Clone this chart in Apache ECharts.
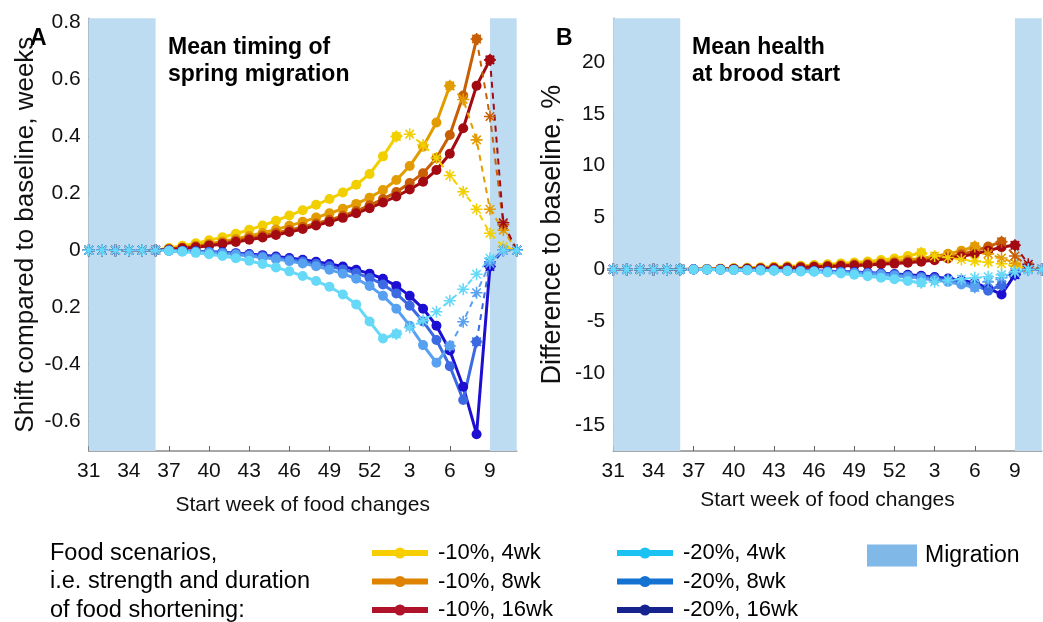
<!DOCTYPE html>
<html><head><meta charset="utf-8">
<script src="https://cdn.jsdelivr.net/npm/echarts@6/dist/echarts.min.js"></script>
<style>html,body{margin:0;padding:0;background:#fff}#c{width:1043px;height:622px}</style>
</head><body><div id="c"></div>
<script>
// weeks along the x axis (index 0..32)
const weeks = [31,32,33,34,35,36,37,38,39,40,41,42,43,44,45,46,47,48,49,50,51,52,1,2,3,4,5,6,7,8,9,10,11];
const xTickLabels = ['31','34','37','40','43','46','49','52','3','6','9'];
const yTicksA = [-0.6,-0.4,-0.2,0,0.2,0.4,0.6,0.8];
const yLabelsA = ['-0.6','-0.4','0.2','0','0.2','0.4','0.6','0.8'];
const yTicksB = [-15,-10,-5,0,5,10,15,20];
const yLabelsB = ['-15','-10','-5','0','5','10','15','20'];
const migrationWeeks = [[31,36],[9,11]];

// Panel A: shift of mean spring migration timing (weeks)
const A_yellow = [0,0,0,0,0,0,0.008,0.016,0.025,0.035,0.046,0.058,0.072,0.087,0.104,0.122,0.141,0.16,0.18,0.203,0.23,0.268,0.33,0.40,0.408,0.37,0.324,0.263,0.206,0.144,0.06,0.013,0];
const A_gold   = [0,0,0,0,0,0,0.005,0.01,0.016,0.023,0.031,0.04,0.05,0.061,0.073,0.086,0.1,0.115,0.13,0.146,0.163,0.185,0.212,0.247,0.296,0.364,0.449,0.578,0.53,0.388,0.144,0.071,0];
const A_rust   = [0,0,0,0,0,0,0.004,0.008,0.013,0.019,0.026,0.034,0.042,0.051,0.061,0.071,0.082,0.094,0.107,0.121,0.138,0.158,0.18,0.205,0.236,0.271,0.324,0.405,0.544,0.742,0.47,0.09,0];
const A_red    = [0,0,0,0,0,0,0.003,0.007,0.011,0.016,0.022,0.029,0.037,0.045,0.054,0.064,0.075,0.087,0.1,0.114,0.13,0.148,0.168,0.189,0.214,0.241,0.282,0.339,0.429,0.578,0.669,0.097,0];
const A_cyan   = [0,0,0,0,0,0,-0.002,-0.005,-0.009,-0.014,-0.02,-0.028,-0.037,-0.048,-0.06,-0.074,-0.09,-0.108,-0.128,-0.155,-0.19,-0.25,-0.31,-0.294,-0.271,-0.247,-0.216,-0.177,-0.137,-0.084,-0.028,0,0];
const A_lblue  = [0,0,0,0,0,0,-0.001,-0.003,-0.005,-0.008,-0.011,-0.015,-0.02,-0.025,-0.031,-0.038,-0.046,-0.056,-0.068,-0.082,-0.1,-0.125,-0.16,-0.205,-0.265,-0.333,-0.395,-0.336,-0.251,-0.149,-0.046,0,0];
const A_mblue  = [0,0,0,0,0,0,-0.001,-0.002,-0.004,-0.006,-0.009,-0.012,-0.016,-0.021,-0.026,-0.032,-0.039,-0.047,-0.056,-0.067,-0.08,-0.097,-0.12,-0.152,-0.195,-0.25,-0.315,-0.407,-0.526,-0.321,-0.04,0,0];
const A_dblue  = [0,0,0,0,0,0,-0.001,-0.002,-0.003,-0.005,-0.007,-0.01,-0.013,-0.017,-0.022,-0.027,-0.033,-0.04,-0.048,-0.057,-0.068,-0.082,-0.1,-0.125,-0.16,-0.205,-0.265,-0.352,-0.479,-0.646,-0.057,0,0];

// Panel B: difference of mean health at brood start (%)
const B_yellow = [0,0,0,0,0,0,0.02,0.05,0.08,0.12,0.16,0.2,0.25,0.3,0.36,0.42,0.5,0.58,0.67,0.77,0.9,1.05,1.3,1.6,1.3,1.15,0.95,0.8,0.7,0.55,0.3,0.05,0];
const B_gold   = [0,0,0,0,0,0,0.01,0.03,0.05,0.08,0.11,0.14,0.18,0.22,0.27,0.32,0.38,0.44,0.51,0.58,0.67,0.77,0.9,1.05,1.25,1.5,1.8,2.2,1.5,1.1,0.6,0.1,0];
const B_rust   = [0,0,0,0,0,0,0.01,0.02,0.04,0.06,0.08,0.11,0.14,0.18,0.22,0.26,0.31,0.36,0.42,0.48,0.55,0.63,0.73,0.85,1.0,1.2,1.45,1.8,2.2,2.67,1.3,0.3,0];
const B_red    = [0,0,0,0,0,0,0.01,0.02,0.03,0.05,0.07,0.09,0.12,0.15,0.19,0.23,0.27,0.32,0.37,0.43,0.49,0.56,0.65,0.75,0.88,1.05,1.25,1.5,1.8,2.15,2.32,0.5,0];
const B_cyan   = [0,0,0,0,0,0,-0.01,-0.02,-0.04,-0.06,-0.08,-0.1,-0.13,-0.16,-0.19,-0.23,-0.3,-0.4,-0.52,-0.65,-0.8,-0.95,-1.12,-1.29,-1.2,-1.05,-0.92,-0.8,-0.7,-0.5,-0.2,0,0];
const B_lblue  = [0,0,0,0,0,0,-0.01,-0.02,-0.03,-0.05,-0.07,-0.09,-0.11,-0.14,-0.17,-0.2,-0.24,-0.29,-0.35,-0.42,-0.5,-0.6,-0.72,-0.86,-1.02,-1.2,-1.45,-1.73,-1.2,-0.8,-0.3,0,0];
const B_mblue  = [0,0,0,0,0,0,0,-0.01,-0.02,-0.03,-0.05,-0.07,-0.09,-0.11,-0.14,-0.17,-0.2,-0.24,-0.29,-0.35,-0.42,-0.5,-0.6,-0.72,-0.86,-1.02,-1.22,-1.5,-2.06,-1.5,-0.3,0,0];
const B_dblue  = [0,0,0,0,0,0,0,-0.01,-0.02,-0.03,-0.04,-0.06,-0.08,-0.1,-0.12,-0.15,-0.18,-0.22,-0.26,-0.31,-0.37,-0.44,-0.52,-0.62,-0.74,-0.88,-1.05,-1.3,-1.8,-2.42,-0.5,0,0];

// last week of the solid part for each scenario
const solidEndWeek = {yellow:2, gold:6, rust:8, red:9, cyan:2, lblue:6, mblue:8, dblue:9};
const startWeek = 36;

const legendNames = ['-10%, 4wk','-10%, 8wk','-10%, 16wk','-20%, 4wk','-20%, 8wk','-20%, 16wk'];
const legendColors = ['#f7cf00','#de8200','#b0122c','#1cc2f2','#1473d1','#15238f'];

const lineColors = {yellow:'#f2d000', gold:'#e39c00', rust:'#c95f05', red:'#a30a12', cyan:'#66d8f8', lblue:'#58a0f0', mblue:'#3b6ae2', dblue:'#1c0fd2'};

const chart = echarts.init(document.getElementById('c'));

function asteriskPath(){
  let s=''; const w=0.13;
  for(let k=0;k<4;k++){
    const a=k*Math.PI/4, c=Math.cos(a), sn=Math.sin(a);
    const pts=[[-1,-w],[1,-w],[1,w],[-1,w]].map(([x,y])=>[x*c-y*sn,x*sn+y*c]);
    s+='M'+pts.map(p=>p[0].toFixed(3)+' '+p[1].toFixed(3)).join(' L')+' Z ';
  }
  return 'path://'+s;
}
const AST = asteriskPath();

const idx0 = weeks.indexOf(startWeek);
function buildSeries(g, vals, key){
  const end = weeks.indexOf(solidEndWeek[key]);
  const col = lineColors[key];
  const pts = vals.map((v,i)=>[i,v]);
  const out = [];
  out.push({type:'line', xAxisIndex:g, yAxisIndex:g, data:pts.slice(idx0,end+1), color:col,
    lineStyle:{width:3,color:col}, symbol:'circle', symbolSize:10, itemStyle:{color:col}, z:3, animation:false, silent:true});
  out.push({type:'line', xAxisIndex:g, yAxisIndex:g, data:pts.slice(end,pts.length), color:col,
    lineStyle:{width:2,type:[6,5],color:col}, symbol:AST, symbolSize:12, itemStyle:{color:col}, z:4, animation:false, silent:true});
  out.push({type:'line', xAxisIndex:g, yAxisIndex:g, data:pts.slice(0,idx0+1), color:col,
    lineStyle:{width:2,type:[6,5],color:col}, symbol:AST, symbolSize:12, itemStyle:{color:col}, z:4, animation:false, silent:true});
  return out;
}

const bandRanges = migrationWeeks.map(r=>[{xAxis:weeks.indexOf(r[0])},{xAxis:weeks.indexOf(r[1])}]);
function bandSeries(g){
  return {type:'line', xAxisIndex:g, yAxisIndex:g, data:[], silent:true, z:1,
    markArea:{silent:true, itemStyle:{color:'#bddcf2'}, data:bandRanges}};
}

const series = [bandSeries(0), bandSeries(1)];
const orderA = [['yellow',A_yellow],['gold',A_gold],['rust',A_rust],['red',A_red],['dblue',A_dblue],['mblue',A_mblue],['lblue',A_lblue],['cyan',A_cyan]];
const orderB = [['yellow',B_yellow],['gold',B_gold],['rust',B_rust],['red',B_red],['dblue',B_dblue],['mblue',B_mblue],['lblue',B_lblue],['cyan',B_cyan]];
orderA.forEach(([k,v])=>series.push(...buildSeries(0,v,k)));
orderB.forEach(([k,v])=>series.push(...buildSeries(1,v,k)));
// legend-only series
legendNames.forEach((n,i)=>series.push({type:'line', name:n, data:[], xAxisIndex:0, yAxisIndex:0, color:legendColors[i],
  lineStyle:{width:6,color:legendColors[i]}, symbol:'circle', symbolSize:10, itemStyle:{color:legendColors[i]}}));
series.push({type:'bar', name:'Migration', data:[], xAxisIndex:0, yAxisIndex:0, itemStyle:{color:'#80b8e8'}});

const FONT = 'Liberation Sans, Arial, sans-serif';
const xTickVals = xTickLabels.map((_,i)=>i*3);
function xAxis(g, gap){
  return {type:'value', gridIndex:g, min:0, max:weeks.length-1,
    name:'Start week of food changes', nameLocation:'middle', nameGap:gap,
    nameTextStyle:{fontFamily:FONT, fontSize:21, color:'#111'},
    axisLine:{onZero:false, lineStyle:{color:'#8a8a8a',width:1.5}},
    axisTick:{inside:true, length:5, customValues:xTickVals, lineStyle:{color:'#666'}},
    axisLabel:{customValues:xTickVals, fontFamily:FONT, fontSize:21, color:'#111', margin:10,
      formatter:v=>xTickLabels[Math.round(v/3)]},
    splitLine:{show:false}};
}
function yAxis(g, min, max, ticks, labels, name, gap, nfs){
  return {type:'value', gridIndex:g, min:min, max:max,
    name:name, nameLocation:'middle', nameGap:gap, nameRotate:90,
    nameTextStyle:{fontFamily:FONT, fontSize:nfs, color:'#111'},
    axisLine:{show:true, onZero:false, lineStyle:{color:'#8a9aab',width:1.5}},
    axisTick:{show:true, inside:true, length:5, customValues:ticks, lineStyle:{color:'#666'}},
    axisLabel:{customValues:ticks, fontFamily:FONT, fontSize:21, color:'#111', margin:8,
      formatter:v=>{const i=ticks.findIndex(t=>Math.abs(t-v)<1e-9); return i>=0?labels[i]:'';}},
    splitLine:{show:false}};
}

const legTxt = {fontFamily:FONT, fontSize:22, color:'#000', padding:[0,0,0,5]};
chart.setOption({
  backgroundColor:'#fff',
  animation:false,
  textStyle:{fontFamily:FONT},
  grid:[{left:88.7, top:18.3, width:428, height:432.7},
        {left:613.3, top:18.3, width:428.4, height:432.7}],
  xAxis:[xAxis(0,44), xAxis(1,39)],
  yAxis:[yAxis(0,-0.705,0.815,yTicksA,yLabelsA,'Shift compared to baseline, weeks',50,26),
         yAxis(1,-17.5,24.2,yTicksB,yLabelsB,'Difference to baseline, %',47,27)],
  title:[
    {text:'A', left:25, top:22, textStyle:{fontFamily:FONT, fontSize:23, fontWeight:'bold', color:'#000'}},
    {text:'B', left:551, top:22, textStyle:{fontFamily:FONT, fontSize:23, fontWeight:'bold', color:'#000'}},
    {text:'Mean timing of\nspring migration', left:163, top:29, textStyle:{fontFamily:FONT, fontSize:23, fontWeight:'bold', color:'#000', lineHeight:27}},
    {text:'Mean health\nat brood start', left:687, top:29, textStyle:{fontFamily:FONT, fontSize:23, fontWeight:'bold', color:'#000', lineHeight:27}},
    {text:'Food scenarios,\ni.e. strength and duration\nof food shortening:', left:45, top:534, textStyle:{fontFamily:FONT, fontSize:23.5, fontWeight:'normal', color:'#000', lineHeight:28.5}}
  ],
  legend:[
    {data:legendNames.slice(0,3), orient:'vertical', left:364, top:537, height:100, itemWidth:56, itemHeight:14, itemGap:6.5,
      lineStyle:{width:6}, textStyle:legTxt, selectedMode:false},
    {data:legendNames.slice(3,6), orient:'vertical', left:609, top:537, height:100, itemWidth:56, itemHeight:14, itemGap:6.5,
      lineStyle:{width:6}, textStyle:legTxt, selectedMode:false},
    {data:[{name:'Migration', icon:'rect'}], left:862, top:539, itemWidth:50, itemHeight:22,
      textStyle:{fontFamily:FONT, fontSize:23, color:'#000', padding:[0,0,0,3]}, selectedMode:false}
  ],
  series:series
});
</script></body></html>
